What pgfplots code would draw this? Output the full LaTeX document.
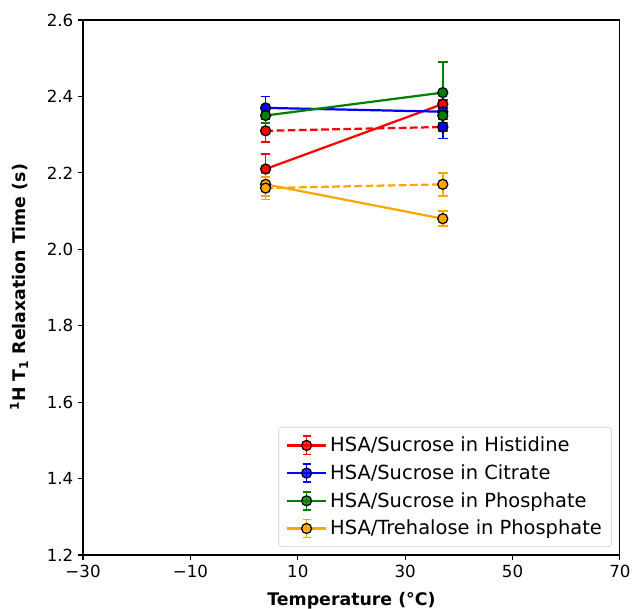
\documentclass[border=0pt]{standalone}
\usepackage{fontspec}
\setmainfont{DejaVu Sans}
\usepackage{pgfplots}
\pgfplotsset{compat=1.18}
\definecolor{mplgreen}{RGB}{0,128,0}
\definecolor{mplorange}{RGB}{255,165,0}
\pgfplotsset{
  eb/.style={color=#1, line width=1.6pt, mark=*, mark size=3.6pt,
     mark options={solid, fill=#1, draw=black, line width=0.9pt},
     error bars/y dir=both, error bars/y explicit,
     error bars/error bar style={solid, line width=1.3pt, color=#1},
     error bars/error mark options={solid, rotate=90, mark size=3.5pt, line width=1.3pt, color=#1}},
  lg/.style={color=#1, line width=1.6pt, mark=*, mark size=3.6pt,
     mark options={solid, fill=#1, draw=black, line width=0.9pt}},
}
\begin{document}
\begin{tikzpicture}
\useasboundingbox (-59.8pt,-38.9pt) rectangle (396pt,399.6pt);
\begin{axis}[
  width=386.6pt, height=385.2pt, scale only axis,
  xmin=-30, xmax=70, ymin=1.2, ymax=2.6,
  xtick={-30,-10,10,30,50,70},
  xticklabels={−30,−10,10,30,50,70},
  ytick={1.2,1.4,1.6,1.8,2.0,2.2,2.4,2.6},
  yticklabels={1.2,1.4,1.6,1.8,2.0,2.2,2.4,2.6},
  tick align=outside, xtick pos=bottom, ytick pos=left,
  major tick length=3.5pt,
  every tick/.style={black, line width=0.8pt},
  axis line style={line width=0.8pt},
  tick label style={font=\fontsize{12}{14}\selectfont},
  xlabel={Temperature (°C)},
  ylabel={\textsuperscript{1}H T\textsubscript{1} Relaxation Time (s)},
  every axis x label/.style={at={(axis description cs:0.5,-0.086)}, anchor=center, font=\bfseries\fontsize{12.5}{14}\selectfont},
  every axis y label/.style={at={(axis description cs:-0.119,0.5)}, rotate=90, anchor=center, font=\bfseries\fontsize{12.5}{14}\selectfont},
  legend image code/.code={
    \draw[#1, mark=none] (0cm,0cm) -- (1.0cm,0cm);
    \draw[#1, mark=none, line width=1.3pt] (0.5cm,-0.23cm) -- (0.5cm,0.23cm)
       (0.4cm,-0.23cm) -- (0.6cm,-0.23cm) (0.4cm,0.23cm) -- (0.6cm,0.23cm);
    \draw[#1] plot coordinates {(0.5cm,0cm)};
  },
  legend style={at={(0.985,0.015)}, anchor=south east, draw=black!20,
    rounded corners=2pt, fill=white, fill opacity=0.8, text opacity=1,
    font=\fontsize{14}{16}\selectfont, row sep=3.8pt, inner xsep=5pt, inner ysep=5pt},
  legend cell align=left,
]
\addlegendimage{lg=red}\addlegendentry{HSA/Sucrose in Histidine}
\addlegendimage{lg=blue}\addlegendentry{HSA/Sucrose in Citrate}
\addlegendimage{lg=mplgreen}\addlegendentry{HSA/Sucrose in Phosphate}
\addlegendimage{lg=mplorange}\addlegendentry{HSA/Trehalose in Phosphate}

\addplot[eb=red, forget plot] coordinates {(4,2.21) +- (0,0.04) (37,2.38) +- (0,0.01)};
\addplot[dash pattern=on 5.5pt off 2.5pt, eb=red, forget plot] coordinates {(4,2.31) +- (0,0.03) (37,2.32) +- (0,0.01)};
\addplot[eb=blue, forget plot] coordinates {(4,2.37) +- (0,0.03) (37,2.36) +- (0,0.01)};
\addplot[only marks, eb=blue, forget plot] coordinates {(37,2.32) +- (0,0.03)};
\addplot[eb=mplgreen, forget plot] coordinates {(4,2.35) +- (0,0.02) (37,2.41) +- (0,0.08)};
\addplot[only marks, eb=mplgreen, forget plot] coordinates {(37,2.35) +- (0,0.01)};
\addplot[eb=mplorange, forget plot] coordinates {(4,2.17) +- (0,0.03) (37,2.08) +- (0,0.02)};
\addplot[dash pattern=on 5.5pt off 2.5pt, eb=mplorange, forget plot] coordinates {(4,2.16) +- (0,0.03) (37,2.17) +- (0,0.03)};
\end{axis}
\end{tikzpicture}
\end{document}
